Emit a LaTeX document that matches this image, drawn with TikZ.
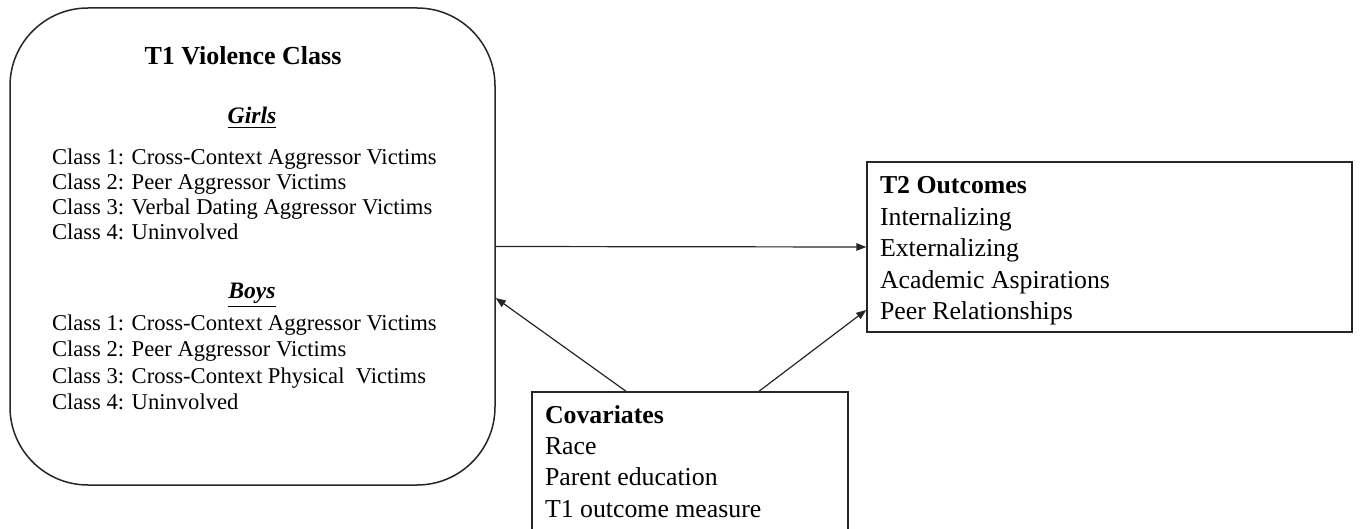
\documentclass[tikz,border=0pt]{standalone}
\usepackage{fontspec}
\setmainfont{Liberation Serif}
\usetikzlibrary{arrows.meta}
\begin{document}
\begin{tikzpicture}[x=0.5pt,y=-0.5pt,
  boxline/.style={draw=black!85,line width=0.75pt},
  txt/.style={inner sep=0pt,outer sep=0pt,align=left},
  leftbody/.style={txt,anchor=base west,font=\fontsize{11.3pt}{12.5pt}\selectfont},
  rightbody/.style={txt,anchor=base west,font=\fontsize{12.9pt}{15.8pt}\selectfont},
  conn/.style={draw=black!85,line width=0.6pt,-{Triangle[length=5pt,width=3.8pt]}}]
\useasboundingbox (0,0) rectangle (1360,529);
% boxes
\node[boxline,rounded corners=39pt,minimum width=242.5pt,minimum height=238.5pt,inner sep=0pt] (t1) at (252.5,246.5) {};
\node[boxline,minimum width=242.5pt,minimum height=85pt,inner sep=0pt] (t2) at (1109.5,247) {};
\node[boxline,minimum width=158pt,minimum height=71pt,inner sep=0pt] (cov) at (690,463) {};
% T1 texts (multi-line nodes: base = baseline of last line)
\node[txt,anchor=base,font=\fontsize{13pt}{15pt}\selectfont\bfseries] (t1title) at (243,65) {T1 Violence Class};
\node[txt,anchor=base,font=\fontsize{11.8pt}{14pt}\selectfont] (girls) at (252,124) {\underline{\textbf{\textit{Girls}}}};
\node[leftbody] (girlslist) at (52,240) {Class 1: Cross-Context Aggressor Victims\\Class 2: Peer Aggressor Victims\\Class 3: Verbal Dating Aggressor Victims\\Class 4: Uninvolved};
\node[txt,anchor=base,font=\fontsize{11.8pt}{14pt}\selectfont] (boys) at (252,299) {\underline{\textbf{\textit{Boys}}}};
\node[leftbody,font=\fontsize{11.3pt}{13.25pt}\selectfont] (boyslist) at (52,409.5) {Class 1: Cross-Context Aggressor Victims\\Class 2: Peer Aggressor Victims\\Class 3: Cross-Context Physical\ \ Victims\\Class 4: Uninvolved};
% T2 texts
\node[rightbody] (t2text) at (880,320) {\textbf{T2 Outcomes}\\Internalizing\\Externalizing\\Academic Aspirations\\Peer Relationships};
% Covariates texts
\node[rightbody,font=\fontsize{12.9pt}{15.65pt}\selectfont] (covtext) at (545,517) {\textbf{Covariates}\\Race\\Parent education\\T1 outcome measure};
% connectors
\draw[conn] (t1.east) -- (t2.west);
\draw[conn] ([xshift=-32pt]cov.north) -- ([yshift=-25.75pt]t1.east);
\draw[conn] ([xshift=34.5pt]cov.north) -- ([yshift=-31.5pt]t2.west);
\end{tikzpicture}
\end{document}
